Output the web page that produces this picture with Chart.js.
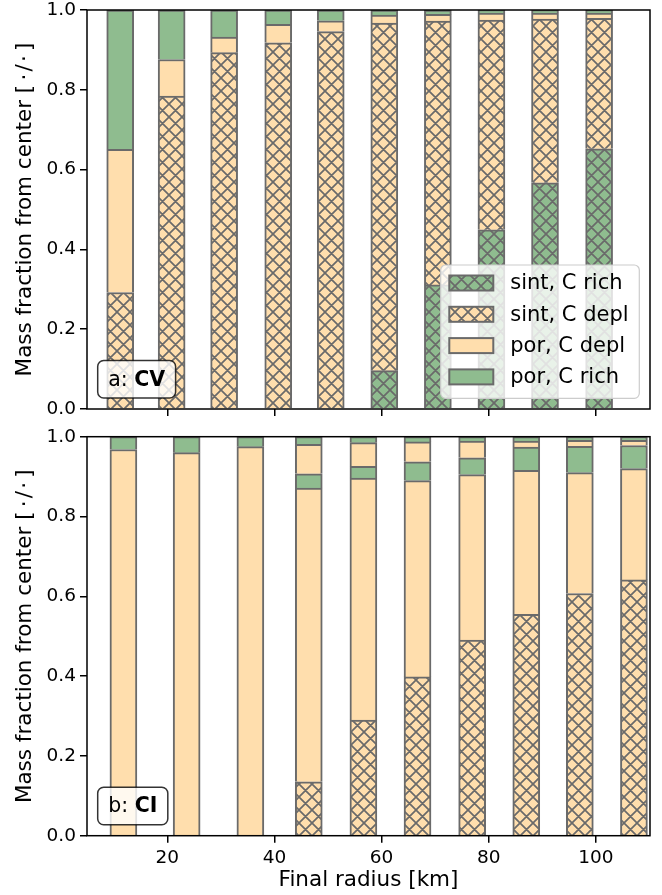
<!DOCTYPE html>
<html>
<head>
<meta charset="utf-8">
<script src="https://cdn.jsdelivr.net/npm/chart.js@4.4.1/dist/chart.umd.min.js"></script>
<style>
  html, body { margin: 0; padding: 0; background: #fff; }
  #wrap { position: relative; width: 662px; height: 895px; }
  canvas { position: absolute; left: 0; }
  #chartA { top: 0; }
  #chartB { top: 420px; }
</style>
</head>
<body>
<div id="wrap">
  <canvas id="chartA" width="662" height="420" style="width:662px;height:420px"></canvas>
  <canvas id="chartB" width="662" height="475" style="width:662px;height:475px"></canvas>
</div>
<script>
// bar positions (final radius, km)
const radiiCV = [11.2, 20.8, 30.6, 40.7, 50.5, 60.5, 70.5, 80.5, 90.5, 100.6];
const radiiCI = [11.8, 23.6, 35.5, 46.4, 56.6, 66.7, 76.9, 87.0, 97.0, 107.1];

// upper boundary of each layer (mass fraction from center), inner -> outer
const cvSintRich = [0, 0, 0, 0, 0, 0.096, 0.311, 0.449, 0.567, 0.652];
const cvSintDepl = [0.292, 0.784, 0.893, 0.918, 0.946, 0.967, 0.972, 0.975, 0.977, 0.979];
const cvPorDepl  = [0.651, 0.876, 0.932, 0.964, 0.973, 0.987, 0.989, 0.992, 0.992, 0.992];
const cvPorRich  = [1, 1, 1, 1, 1, 1, 1, 1, 1, 1];

const ciSintDepl  = [0, 0, 0, 0.135, 0.290, 0.398, 0.490, 0.555, 0.607, 0.641];
const ciPorDepl1  = [0.968, 0.960, 0.975, 0.871, 0.896, 0.890, 0.905, 0.916, 0.910, 0.920];
const ciPorRich1  = [1, 1, 1, 0.907, 0.926, 0.937, 0.947, 0.974, 0.976, 0.978];
const ciPorDepl2  = [1, 1, 1, 0.981, 0.985, 0.987, 0.989, 0.989, 0.991, 0.991];
const ciPorRich2  = [1, 1, 1, 1, 1, 1, 1, 1, 1, 1];

const legendLabels = ['sint, C rich', 'sint, C depl', 'por, C depl', 'por, C rich'];
const xTicks = [20, 40, 60, 80, 100];
const yTicks = [0, 0.2, 0.4, 0.6, 0.8, 1.0];

const GREEN = 'rgb(143,188,143)';
const ORANGE = 'rgb(255,222,173)';
const EDGE = 'rgb(106,106,106)';
const FONT = '"DejaVu Sans", sans-serif';

// hatch 'xx' pattern
function hatch(fill) {
  const s = 13;
  const c = document.createElement('canvas');
  c.width = s; c.height = s;
  const g = c.getContext('2d');
  g.fillStyle = fill;
  g.fillRect(0, 0, s, s);
  g.strokeStyle = EDGE;
  g.lineWidth = 1.7;
  g.beginPath();
  for (const d of [-s, 0, s]) {
    g.moveTo(d, 0); g.lineTo(d + s, s);
    g.moveTo(d + s, 0); g.lineTo(d, s);
  }
  g.stroke();
  return g.createPattern(c, 'repeat');
}
const hatchGreen = hatch(GREEN);
const hatchOrange = hatch(ORANGE);

// boundaries -> thickness of each layer
function layers(tops) {
  return tops.map((t, k) => t.map((v, i) => Math.max(0, v - (k ? tops[k - 1][i] : 0))));
}

function makeSets(radii, tops, fills, labels) {
  const th = layers(tops);
  return th.map((vals, k) => ({
    label: labels[k],
    data: vals.map((v, i) => ({x: radii[i], y: v})),
    backgroundColor: fills[k],
    borderColor: EDGE,
    borderWidth: 2,
    borderSkipped: 'start',
    barThickness: 27
  }));
}

function roundRect(ctx, x, y, w, h, r) {
  ctx.beginPath();
  ctx.moveTo(x + r, y);
  ctx.arcTo(x + w, y, x + w, y + h, r);
  ctx.arcTo(x + w, y + h, x, y + h, r);
  ctx.arcTo(x, y + h, x, y, r);
  ctx.arcTo(x, y, x + w, y, r);
  ctx.closePath();
}

function drawPanelLabel(ctx, area, prefix, bold) {
  ctx.save();
  ctx.font = '20.5px ' + FONT;
  const w1 = ctx.measureText(prefix).width;
  ctx.font = 'bold 20.5px ' + FONT;
  const w2 = ctx.measureText(bold).width;
  const pad = 10.5, h = 37.5;
  const x = area.left + 10.7, y = area.bottom - 11 - h;
  roundRect(ctx, x, y, w1 + w2 + 2 * pad, h, 6);
  ctx.fillStyle = 'rgba(255,255,255,0.8)';
  ctx.fill();
  ctx.strokeStyle = 'rgba(0,0,0,0.8)';
  ctx.lineWidth = 1.5;
  ctx.stroke();
  ctx.fillStyle = '#000';
  ctx.textBaseline = 'middle';
  ctx.font = '20.5px ' + FONT;
  ctx.fillText(prefix, x + pad, y + h / 2 + 1);
  ctx.font = 'bold 20.5px ' + FONT;
  ctx.fillText(bold, x + pad + w1, y + h / 2 + 1);
  ctx.restore();
}

function framePlugin(prefix, bold, withLegend) {
  return {
    id: 'frame' + prefix,
    afterDraw(chart) {
      const ctx = chart.ctx;
      const a = chart.chartArea;
      ctx.save();
      ctx.strokeStyle = '#000';
      ctx.lineWidth = 1.5;
      ctx.strokeRect(a.left, a.top, a.right - a.left, a.bottom - a.top);
      ctx.restore();
      drawPanelLabel(ctx, a, prefix, bold);
      if (!withLegend) return;
      ctx.save();
      const w = 198.6, h = 133.3;
      const x = a.right - 10.7 - w, y = a.bottom - 10.7 - h;
      roundRect(ctx, x, y, w, h, 5);
      ctx.fillStyle = 'rgba(255,255,255,0.8)';
      ctx.fill();
      ctx.strokeStyle = '#cccccc';
      ctx.lineWidth = 1.2;
      ctx.stroke();
      const fills = [hatchGreen, hatchOrange, ORANGE, GREEN];
      ctx.font = '21px ' + FONT;
      ctx.textBaseline = 'middle';
      legendLabels.forEach((lab, i) => {
        const cy = y + 18 + i * 31.3;
        ctx.fillStyle = fills[i];
        ctx.fillRect(x + 8.6, cy - 7.5, 44, 15);
        ctx.strokeStyle = EDGE;
        ctx.lineWidth = 2;
        ctx.strokeRect(x + 8.6, cy - 7.5, 44, 15);
        ctx.fillStyle = '#000';
        ctx.fillText(lab, x + 69.5, cy + 1);
      });
      ctx.restore();
    }
  };
}

function scales(showX, xHeight) {
  return {
    x: {
      type: 'linear',
      stacked: true,
      min: 5,
      max: 110.1,
      offset: false,
      afterBuildTicks: s => { s.ticks = xTicks.map(v => ({value: v})); },
      afterFit: s => { s.height = xHeight; s.paddingLeft = 0; s.paddingRight = 0; },
      grid: {drawOnChartArea: false, drawTicks: true, tickLength: 7, color: '#000', lineWidth: 1.5, offset: false},
      border: {display: false},
      ticks: {
        padding: 4,
        color: '#000',
        font: {family: FONT, size: 18.5},
        callback: v => showX ? String(v) : ''
      },
      title: {
        display: showX,
        text: 'Final radius [km]',
        color: '#000',
        font: {family: FONT, size: 21.5},
        padding: {top: 0, bottom: 2}
      }
    },
    y: {
      stacked: true,
      min: 0,
      max: 1,
      afterBuildTicks: s => { s.ticks = yTicks.map(v => ({value: v})); },
      afterFit: s => { s.width = 87; s.paddingTop = 0; s.paddingBottom = 0; },
      grid: {drawOnChartArea: false, drawTicks: true, tickLength: 7, color: '#000', lineWidth: 1.5},
      border: {display: false},
      ticks: {
        padding: 4,
        color: '#000',
        font: {family: FONT, size: 18.5},
        callback: v => v.toFixed(1)
      },
      title: {
        display: true,
        text: 'Mass fraction from center [\u2009·\u200a/\u200a·\u2009]',
        color: '#000',
        font: {family: FONT, size: 21.5},
        padding: {top: 13, bottom: 0}
      }
    }
  };
}

const common = {
  responsive: false,
  animation: false,
  plugins: {legend: {display: false}, tooltip: {enabled: false}}
};

new Chart(document.getElementById('chartA').getContext('2d'), {
  type: 'bar',
  data: {
    datasets: makeSets(radiiCV,
      [cvSintRich, cvSintDepl, cvPorDepl, cvPorRich],
      [hatchGreen, hatchOrange, ORANGE, GREEN],
      legendLabels)
  },
  options: Object.assign({}, common, {
    layout: {padding: {top: 10, right: 12, left: 0, bottom: 0}},
    scales: scales(false, 11)
  }),
  plugins: [framePlugin('a: ', 'CV', true)]
});

new Chart(document.getElementById('chartB').getContext('2d'), {
  type: 'bar',
  data: {
    datasets: makeSets(radiiCI,
      [ciSintDepl, ciPorDepl1, ciPorRich1, ciPorDepl2, ciPorRich2],
      [hatchOrange, ORANGE, GREEN, ORANGE, GREEN],
      ['sint, C depl', 'por, C depl', 'por, C rich', 'por, C depl', 'por, C rich'])
  },
  options: Object.assign({}, common, {
    layout: {padding: {top: 16.7, right: 12, left: 0, bottom: 0}},
    scales: scales(true, 59.3)
  }),
  plugins: [framePlugin('b: ', 'CI', false)]
});
</script>
</body>
</html>
